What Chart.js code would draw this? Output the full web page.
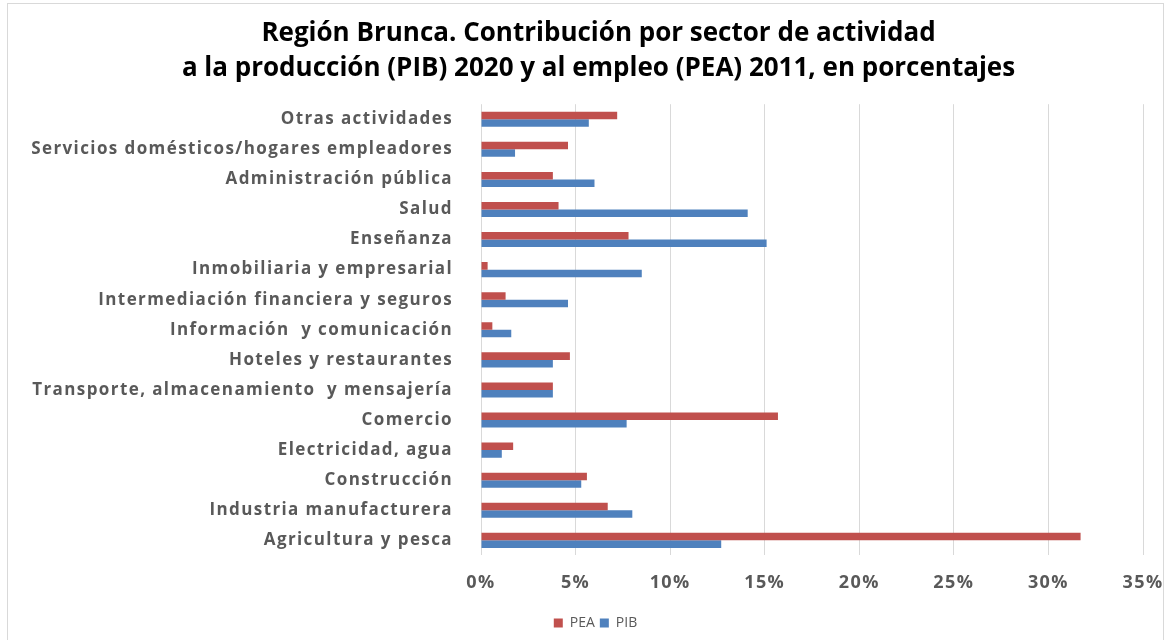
<!DOCTYPE html>
<html>
<head>
<meta charset="utf-8">
<script src="https://cdn.jsdelivr.net/npm/chart.js@4"></script>
<style>
  body { margin: 0; background: #fff; }
  .wrap { position: relative; width: 1173px; height: 640px; }
  .frame { position: absolute; left: 7px; top: 3px; width: 1157px; height: 660px; border: 1px solid #d9d9d9; box-sizing: border-box; }
  canvas { position: absolute; left: 0; top: 0; }
</style>
</head>
<body>
<div class="wrap">
  <div class="frame"></div>
  <canvas id="myChart" width="1173" height="640"></canvas>
</div>
<script>
const sectors = [
  "Otras actividades",
  "Servicios domésticos/hogares empleadores",
  "Administración pública",
  "Salud",
  "Enseñanza",
  "Inmobiliaria y empresarial",
  "Intermediación financiera y seguros",
  "Información  y comunicación",
  "Hoteles y restaurantes",
  "Transporte, almacenamiento  y mensajería",
  "Comercio",
  "Electricidad, agua",
  "Construcción",
  "Industria manufacturera",
  "Agricultura y pesca"
]

// porcentajes
const pea = [7.2, 4.6, 3.8, 4.1, 7.8, 0.35, 1.3, 0.6, 4.7, 3.8, 15.7, 1.7, 5.6, 6.7, 31.7]
const pib = [5.7, 1.8, 6.0, 14.1, 15.1, 8.5, 4.6, 1.6, 3.8, 3.8, 7.7, 1.1, 5.3, 8.0, 12.7]

const xTicks = [0, 5, 10, 15, 20, 25, 30, 35]

const titleLines = [
  "Región Brunca. Contribución por sector de actividad",
  "a la producción (PIB) 2020 y al empleo (PEA) 2011, en porcentajes"
]

const gray = "#595959"

// the axis labels in the original are spaced out a bit
const spacing = {
  id: "spacing",
  afterDatasetsDraw(chart) { chart.ctx.letterSpacing = "1.4px" },
  afterDraw(chart) { chart.ctx.letterSpacing = "0px" }
}

// title and legend sit a little right of the centre
const shiftBoxes = {
  id: "shiftBoxes",
  afterLayout(chart) {
    chart.legend.left += 19
    chart.legend.right += 19
    chart.titleBlock.left += 22
    chart.titleBlock.right += 22
  }
}

const config = {
  type: "bar",
  data: {
    labels: sectors,
    datasets: [
      { label: "PEA", data: pea, backgroundColor: "#C0504D", borderWidth: 0 },
      { label: "PIB", data: pib, backgroundColor: "#4F81BD", borderWidth: 0 }
    ]
  },
  options: {
    indexAxis: "y",
    responsive: false,
    animation: false,
    events: [],
    categoryPercentage: 0.5,
    barPercentage: 1,
    layout: { padding: { left: 10, right: 30, top: 16, bottom: 0 } },
    plugins: {
      title: {
        display: true,
        text: titleLines,
        color: "#000",
        font: { family: "Open Sans", size: 26, weight: "bold", lineHeight: 1.35 },
        padding: { top: 0, bottom: 18 }
      },
      legend: {
        position: "bottom",
        labels: {
          boxWidth: 9,
          boxHeight: 9,
          padding: 5,
          color: gray,
          font: { family: "Open Sans", size: 14 }
        }
      },
      tooltip: { enabled: false }
    },
    scales: {
      x: {
        min: 0,
        max: 35,
        afterBuildTicks: (scale) => { scale.ticks = xTicks.map(v => ({ value: v })) },
        afterFit: (scale) => { scale.paddingLeft = 0; scale.paddingRight = 0 },
        ticks: {
          z: 1,
          color: gray,
          padding: 17,
          font: { family: "Open Sans", size: 18, weight: "bold" },
          callback: (v) => v + "%"
        },
        grid: { color: "#d9d9d9", drawTicks: false },
        border: { display: false }
      },
      y: {
        afterFit: (scale) => { scale.width = 471 },
        ticks: {
          z: 1,
          color: gray,
          padding: 28,
          font: { family: "Open Sans", size: 17, weight: "bold" }
        },
        grid: { display: false, drawTicks: false },
        border: { display: false }
      }
    }
  },
  plugins: [spacing, shiftBoxes]
}

const salesChart = new Chart(document.getElementById("myChart"), config)
</script>
</body>
</html>
